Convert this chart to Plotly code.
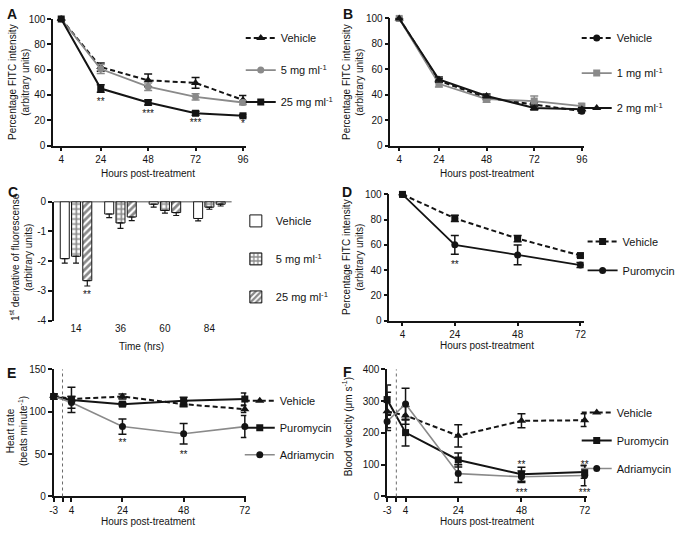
import plotly.graph_objects as go

# ---------------- data ----------------
HOURS_AB = [4, 24, 48, 72, 96]
A_VEHICLE = [100, 62, 51.5, 49.5, 36]
A_VEHICLE_ERR = [None, 3.3, 5, 4.2, 3.5]
A_5MG = [100, 60.5, 46.5, 38.5, 34]
A_5MG_ERR = [None, 3.5, 3, 2.5, 1.5]
A_25MG = [100, 45, 34, 25.5, 23.5]
A_25MG_ERR = [None, 3, 2, 1.5, 1]
A_STAR_X = [24, 48, 72, 96]
A_STAR_Y = [34, 24.5, 17.5, 16.5]
A_STARS = ["**", "***", "***", "*"]

B_VEHICLE = [100, 51, 37.5, 32.5, 27]
B_VEHICLE_ERR = [None, 1.5, 1.5, 1.5, 1.5]
B_1MG = [100, 48.5, 36.5, 35, 31]
B_1MG_ERR = [None, 2.5, 2.5, 4, 2]
B_2MG = [100, 52, 39, 29.5, 28.5]
B_2MG_ERR = [None, 2, 1.5, 1.5, 1.5]

C_TIMES = ["14", "36", "60", "84"]
C_VEHICLE = [-1.92, -0.42, -0.09, -0.57]
C_VEHICLE_ERR = [0.15, 0.12, 0.1, 0.08]
C_5MG = [-1.84, -0.72, -0.3, -0.19]
C_5MG_ERR = [0.23, 0.18, 0.09, 0.07]
C_25MG = [-2.66, -0.52, -0.37, -0.09]
C_25MG_ERR = [0.18, 0.12, 0.1, 0.06]
C_STAR_Y = -3.12
C_STAR = "**"

HOURS_D = [4, 24, 48, 72]
D_VEHICLE = [100, 81, 65, 51.5]
D_VEHICLE_ERR = [None, 2.5, 2.5, 1.2]
D_PURO = [100, 60, 52, 44]
D_PURO_ERR = [None, 7.5, 7.8, 2]
D_STAR_X = [24]
D_STAR_Y = [44]
D_STARS = ["**"]

HOURS_EF = [-3, 4, 24, 48, 72]
TREATMENT_LINE = 0.5
E_VEHICLE = [119, 115, 118, 109, 103]
E_VEHICLE_ERR = [2, 3, 3, 3, 4]
E_PURO = [118, 114, 109, 113, 115]
E_PURO_ERR = [3, 15, 2, 4, 7]
E_ADRIA = [118, 111, 82.5, 74, 82.5]
E_ADRIA_ERR = [3, 7, 9, 12, 13]
E_STAR_X = [24, 48]
E_STAR_Y = [62, 48]
E_STARS = ["**", "**"]

F_VEHICLE = [268, 255, 191, 238, 240]
F_VEHICLE_ERR = [60, 28, 35, 22, 20]
F_PURO = [305, 201, 115, 70, 77]
F_PURO_ERR = [46, 42, 22, 22, 20]
F_ADRIA = [236, 291, 72, 62, 66]
F_ADRIA_ERR = [20, 50, 28, 18, 32]
F_STAR_X = [48, 72, 48, 72]
F_STAR_Y = [98, 98, 8, 8]
F_STARS = ["**", "**", "***", "***"]

# ---------------- style ----------------
FONT = "Liberation Sans, Arial, Helvetica, sans-serif"
BLACK = "#141414"
GRAY = "#8a8a8a"
W, H = 680, 537
BARGAP = 0.24
FS = 10  # text size

fig = go.Figure()


def ax(i):
    return ("x" if i == 1 else f"x{i}"), ("y" if i == 1 else f"y{i}")


def line_trace(i, x, y, err, name, legend, symbol, color, dash, mcolor=None, ecolor=None, width=2, msize=7):
    xa, ya = ax(i)
    return go.Scatter(
        x=x, y=y, name=name, mode="lines+markers", xaxis=xa, yaxis=ya,
        legend=legend, legendgroup=f"{legend}-{name}",
        line=dict(color=color, width=width, dash=dash),
        marker=dict(symbol=symbol, size=msize, color=mcolor or color),
        error_y=dict(type="data", array=err, visible=True, color=ecolor or color,
                     thickness=1.5, width=4),
        cliponaxis=False,
    )


def star_trace(i, x, y, t):
    xa, ya = ax(i)
    return go.Scatter(x=x, y=y, text=t, mode="text", xaxis=xa, yaxis=ya,
                      showlegend=False, cliponaxis=False,
                      textfont=dict(size=FS, color=BLACK, family=FONT))


DASH = "5px,3px"

# A
fig.add_trace(line_trace(1, HOURS_AB, A_VEHICLE, A_VEHICLE_ERR, "Vehicle", "legend", "triangle-up", BLACK, DASH, msize=8))
fig.add_trace(line_trace(1, HOURS_AB, A_5MG, A_5MG_ERR, "5 mg ml<sup>-1</sup>", "legend", "circle", GRAY, "solid", width=1.8))
fig.add_trace(line_trace(1, HOURS_AB, A_25MG, A_25MG_ERR, "25 mg ml<sup>-1</sup>", "legend", "square", BLACK, "solid"))
fig.add_trace(star_trace(1, A_STAR_X, A_STAR_Y, A_STARS))

# B
fig.add_trace(line_trace(2, HOURS_AB, B_VEHICLE, B_VEHICLE_ERR, "Vehicle", "legend2", "circle", BLACK, DASH))
fig.add_trace(line_trace(2, HOURS_AB, B_1MG, B_1MG_ERR, "1 mg ml<sup>-1</sup>", "legend2", "square", GRAY, "solid", width=1.8))
fig.add_trace(line_trace(2, HOURS_AB, B_2MG, B_2MG_ERR, "2 mg ml<sup>-1</sup>", "legend2", "triangle-up", BLACK, "solid", msize=8))

# C (bars)
for vals, errs, name, shape in [
    (C_VEHICLE, C_VEHICLE_ERR, "Vehicle", ""),
    (C_5MG, C_5MG_ERR, "5 mg ml<sup>-1</sup>", "+"),
    (C_25MG, C_25MG_ERR, "25 mg ml<sup>-1</sup>", "/"),
]:
    fig.add_trace(go.Bar(
        x=C_TIMES, y=vals, name=name, xaxis="x3", yaxis="y3",
        legend="legend3", legendgroup=f"c-{name}",
        marker=dict(color="white", line=dict(color=BLACK, width=1),
                    pattern=dict(shape=shape, fgcolor=BLACK, bgcolor="white", size=5, solidity=0.55)),
        error_y=dict(type="data", symmetric=False, array=[0] * len(errs), arrayminus=errs,
                     color=BLACK, thickness=1.2, width=3),
    ))

# D
fig.add_trace(line_trace(4, HOURS_D, D_VEHICLE, D_VEHICLE_ERR, "Vehicle", "legend4", "square", BLACK, DASH))
fig.add_trace(line_trace(4, HOURS_D, D_PURO, D_PURO_ERR, "Puromycin", "legend4", "circle", BLACK, "solid", width=1.8))
fig.add_trace(star_trace(4, D_STAR_X, D_STAR_Y, D_STARS))

# E
fig.add_trace(line_trace(5, HOURS_EF, E_VEHICLE, E_VEHICLE_ERR, "Vehicle", "legend5", "triangle-up", BLACK, DASH, msize=8))
fig.add_trace(line_trace(5, HOURS_EF, E_PURO, E_PURO_ERR, "Puromycin", "legend5", "square", BLACK, "solid"))
fig.add_trace(line_trace(5, HOURS_EF, E_ADRIA, E_ADRIA_ERR, "Adriamycin", "legend5", "circle", GRAY, "solid",
                         mcolor=BLACK, ecolor=BLACK, width=1.6))
fig.add_trace(star_trace(5, E_STAR_X, E_STAR_Y, E_STARS))

# F
fig.add_trace(line_trace(6, HOURS_EF, F_VEHICLE, F_VEHICLE_ERR, "Vehicle", "legend6", "triangle-up", BLACK, DASH, msize=8))
fig.add_trace(line_trace(6, HOURS_EF, F_PURO, F_PURO_ERR, "Puromycin", "legend6", "square", BLACK, "solid"))
fig.add_trace(line_trace(6, HOURS_EF, F_ADRIA, F_ADRIA_ERR, "Adriamycin", "legend6", "circle", GRAY, "solid",
                         mcolor=BLACK, ecolor=BLACK, width=1.6))
fig.add_trace(star_trace(6, F_STAR_X, F_STAR_Y, F_STARS))


# ---------------- layout ----------------
def dx(l, r):
    return [l / W, r / W]


def dy(top, bottom):
    return [1 - bottom / H, 1 - top / H]


base_axis = dict(showline=True, linecolor=BLACK, linewidth=1.5, ticks="outside", ticklen=4,
                 tickwidth=1.5, tickcolor=BLACK, showgrid=False, zeroline=False,
                 tickfont=dict(size=FS, color=BLACK, family=FONT))

panels = {
    1: dict(x=dx(50, 246.7), y=dy(13.3, 142.7), xr=[-0.1, 97.7], yr=[0, 100],
            xt=HOURS_AB, xtt=[str(v) for v in HOURS_AB], yt=[0, 20, 40, 60, 80, 100]),
    2: dict(x=dx(393.3, 590.7), y=dy(12.7, 142.7), xr=[-0.45, 97.2], yr=[0, 100],
            xt=HOURS_AB, xtt=[str(v) for v in HOURS_AB], yt=[0, 20, 40, 60, 80, 100]),
    4: dict(x=dx(392.3, 590), y=dy(192.7, 321.7), xr=[-1, 73.2], yr=[0, 100],
            xt=HOURS_D, xtt=[str(v) for v in HOURS_D], yt=[0, 20, 40, 60, 80, 100]),
    5: dict(x=dx(50.5, 246.7), y=dy(371.7, 501.7), xr=[-3, 72.6], yr=[0, 150],
            xt=[-3, TREATMENT_LINE, 4, 24, 48, 72], xtt=["-3", "", "4", "24", "48", "72"], yt=[0, 50, 100, 150]),
    6: dict(x=dx(390, 593), y=dy(371.7, 501.7), xr=[-3, 72.7], yr=[0, 400],
            xt=[-3, TREATMENT_LINE, 4, 24, 48, 72], xtt=["-3", "", "4", "24", "48", "72"], yt=[0, 100, 200, 300, 400]),
}

layout = dict(
    width=W, height=H, margin=dict(l=0, r=0, t=0, b=0),
    paper_bgcolor="white", plot_bgcolor="white",
    font=dict(family=FONT, size=FS, color=BLACK),
    barmode="group", bargap=BARGAP, bargroupgap=0.2,
)

for i, p in panels.items():
    xk = "xaxis" if i == 1 else f"xaxis{i}"
    yk = "yaxis" if i == 1 else f"yaxis{i}"
    xa, ya = ax(i)
    layout[xk] = dict(base_axis, domain=p["x"], range=p["xr"], anchor=ya,
                      tickmode="array", tickvals=p["xt"], ticktext=p["xtt"])
    layout[yk] = dict(base_axis, domain=p["y"], range=p["yr"], anchor=xa,
                      tickmode="array", tickvals=p["yt"], ticktext=[str(v) for v in p["yt"]])

# panel C axes
layout["xaxis3"] = dict(domain=dx(50.7, 231.7), anchor="y3", type="category", range=[-0.5, 3.5],
                        showline=False, ticks="", showgrid=False, zeroline=False,
                        tickfont=dict(size=FS, color=BLACK, family=FONT))
layout["yaxis3"] = dict(base_axis, domain=dy(200, 321.7), anchor="x3", range=[-4, 0],
                        tickmode="array", tickvals=[-4, -3, -2, -1, 0], ticktext=["-4", "-3", "-2", "-1", "0"])


def legend_at(left_px, top_px, gap):
    return dict(x=left_px / W, y=1 - top_px / H, xanchor="left", yanchor="top",
                bgcolor="rgba(0,0,0,0)", borderwidth=0, tracegroupgap=gap,
                font=dict(size=11, color=BLACK, family=FONT), traceorder="grouped")


layout["legend"] = legend_at(241, 18, 13)
layout["legend2"] = legend_at(583, 18, 16)
layout["legend3"] = legend_at(236, 205, 19)
layout["legend4"] = legend_at(589, 226, 10)
layout["legend5"] = legend_at(240, 389, 8)
layout["legend6"] = legend_at(583, 401, 9)

fig.update_layout(**layout)

# zero line of panel C (bars hang from it)
fig.add_shape(type="line", xref="x3 domain", x0=0, x1=1, yref="y3", y0=0, y1=0,
              line=dict(color=BLACK, width=1.5))
# significance mark under the 25 mg bar of the first group
fig.add_annotation(text=C_STAR, xref="x3", yref="y3", x=0 + (1 - BARGAP) / 3, y=C_STAR_Y,
                   showarrow=False, font=dict(size=FS, color=BLACK, family=FONT))
# treatment time dotted lines
for i in (5, 6):
    fig.add_shape(type="line", xref=f"x{i}", x0=TREATMENT_LINE, x1=TREATMENT_LINE,
                  yref=f"y{i} domain", y0=0, y1=1, line=dict(color="#6a6a6a", width=1, dash="dot"))


# panel letters and axis titles
def ann(text, x, y, size=FS, angle=0, bold=False):
    fig.add_annotation(text=f"<b>{text}</b>" if bold else text, x=x / W, y=1 - y / H,
                       xref="paper", yref="paper", showarrow=False, textangle=angle,
                       xanchor="center", yanchor="middle",
                       font=dict(size=size, color=BLACK, family=FONT))


for letter, x, y in [("A", 8, 8), ("B", 350, 8), ("C", 9, 190), ("D", 349, 190), ("E", 8, 375), ("F", 350, 374)]:
    ann(letter, x, y, size=14, bold=True)

ann("Hours post-treatment", 147, 171)
ann("Hours post-treatment", 492, 171)
ann("Time (hrs)", 140, 348)
ann("Hours post-treatment", 492, 347)
ann("Hours post-treatment", 147, 527)
ann("Hours post-treatment", 492, 527)

ann("Percentage FITC intensity<br>(arbitrary units)", 16, 78, angle=-90)
ann("Percentage FITC intensity<br>(arbitrary units)", 356, 78, angle=-90)
ann("1<sup>st</sup> derivative of fluorescense<br>(arbitrary units)", 17, 257, angle=-90)
ann("Percentage FITC intensity<br>(arbitrary units)", 356, 257, angle=-90)
ann("Heart rate<br>(beats minute<sup>-1</sup>)", 14, 435, angle=-90)
ann("Blood velocity (μm s<sup>-1</sup>)", 350, 430, angle=-90)

fig.write_html("out.html", config={"displayModeBar": False},
               post_script="document.body.style.margin='0px';document.body.style.overflow='hidden';")
